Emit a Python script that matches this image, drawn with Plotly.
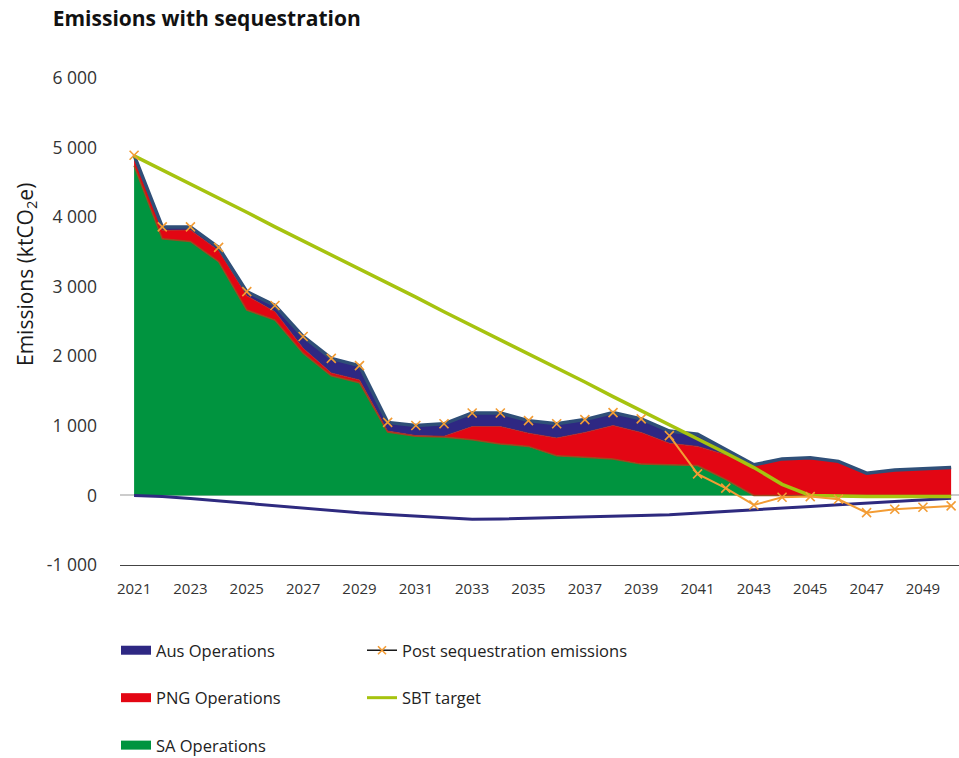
import plotly.graph_objects as go

years = list(range(2021, 2051))
sa_ops = [4740, 3690, 3650, 3360, 2665, 2520, 2045, 1720, 1620, 910,
          850, 840, 800, 740, 705, 570, 550, 525, 450, 440,
          430, 230, 0, 0, 0, 0, 0, 0, 0, 0]
png_ops = [100, 120, 165, 160, 205, 120, 70, 40, 40, 15,
           10, 10, 190, 250, 190, 255, 355, 480, 455, 310,
           275, 355, 430, 520, 535, 485, 315, 360, 378, 398]
aus_ops = [50, 50, 45, 45, 60, 90, 170, 210, 205, 125,
           145, 180, 195, 195, 180, 205, 185, 185, 195, 175,
           175, 75, 10, 5, 5, 5, 5, 5, 5, 5]
sequestration = [0, -15, -45, -80, -115, -145, -180, -220, -250, -275,
                 -300, -325, -343, -338, -330, -320, -310, -300, -290, -278,
                 -252, -228, -205, -182, -158, -134, -111, -87, -64, -40]
post_seq = [4890, 3860, 3860, 3565, 2930, 2730, 2285, 1970, 1865, 1050,
            1005, 1030, 1185, 1185, 1075, 1030, 1090, 1190, 1100, 860,
            310, 104, -137, -26, -17, -55, -248, -199, -170, -151]
sbt_target = [4880, 4680, 4470, 4270, 4070, 3860, 3660, 3460, 3250, 3050,
              2850, 2640, 2440, 2240, 2030, 1830, 1630, 1420, 1220, 1020,
              810, 610, 400, 160, 0, -10, -15, -15, -15, -15]
x_ticks = list(range(2021, 2050, 2))
y_ticks = [-1000, 0, 1000, 2000, 3000, 4000, 5000, 6000]
y_ticktext = ["-1 000", "0", "1 000", "2 000", "3 000", "4 000", "5 000", "6 000"]
post_line_start = 2040  # the orange connecting line is only visible from here on

C_AUS = "#2e2883"
C_PNG = "#e30613"
C_SA = "#00943f"
C_OUT = "#2f4f78"
C_SEQ = "#2e2a7f"
C_SBT = "#a6c30f"
C_POST = "#f39c34"
FONT = "Open Sans"

fig = go.Figure()

fig.add_trace(go.Scatter(x=years, y=sa_ops, stackgroup="one", mode="lines",
                         line=dict(color="#9a4a1e", width=1.5), fillcolor=C_SA,
                         showlegend=False, hoverinfo="skip"))
fig.add_trace(go.Scatter(x=years, y=png_ops, stackgroup="one", mode="lines",
                         line=dict(color="#b8261a", width=0.8), fillcolor=C_PNG,
                         showlegend=False, hoverinfo="skip"))
fig.add_trace(go.Scatter(x=years, y=aus_ops, stackgroup="one", mode="lines",
                         line=dict(color=C_OUT, width=3.5), fillcolor=C_AUS,
                         showlegend=False, hoverinfo="skip"))
fig.add_trace(go.Scatter(x=years, y=sequestration, mode="lines",
                         line=dict(color=C_SEQ, width=3), showlegend=False))
fig.add_trace(go.Scatter(x=years, y=sbt_target, mode="lines",
                         line=dict(color=C_SBT, width=3.5), showlegend=False))
i0 = years.index(post_line_start)
fig.add_trace(go.Scatter(x=years[i0:], y=post_seq[i0:], mode="lines",
                         line=dict(color=C_POST, width=2), showlegend=False))
fig.add_trace(go.Scatter(x=years, y=post_seq, mode="markers",
                         marker=dict(symbol="x-thin", size=9,
                                     line=dict(color=C_POST, width=1.6)),
                         showlegend=False))

# legend entries
for name, col in [("Aus Operations", C_AUS), ("PNG Operations", C_PNG), ("SA Operations", C_SA)]:
    fig.add_trace(go.Scatter(x=[None], y=[None], name=name, mode="lines",
                             line=dict(color=col, width=9),
                             legend="legend", legendgroup=name))
fig.add_trace(go.Scatter(x=[None], y=[None], name="Post sequestration emissions",
                         mode="lines+markers", line=dict(color="#1a1a1a", width=1.5),
                         marker=dict(symbol="x-thin", size=8, line=dict(color=C_POST, width=1.6)),
                         legend="legend2", legendgroup="post"))
fig.add_trace(go.Scatter(x=[None], y=[None], name="SBT target", mode="lines",
                         line=dict(color=C_SBT, width=3),
                         legend="legend2", legendgroup="sbt"))

fig.add_annotation(text="Emissions (ktCO<sub>2</sub>e)", textangle=-90,
                   xref="paper", yref="paper", x=-0.112, y=0.5955, showarrow=False,
                   xanchor="center", yanchor="middle",
                   font=dict(family=FONT, size=21, color="#1a1a1a"))

legend_common = dict(orientation="v", yanchor="top", xanchor="left",
                     xref="container", yref="container",
                     font=dict(family=FONT, size=16.5, color="#222222"),
                     bgcolor="rgba(0,0,0,0)", tracegroupgap=23, itemwidth=30)

fig.update_layout(
    width=959, height=758,
    margin=dict(l=120, r=0, t=78, b=193, autoexpand=False),
    paper_bgcolor="white", plot_bgcolor="white",
    font=dict(family=FONT, color="#333333"),
    title=dict(text="<b>Emissions with sequestration</b>", x=0.055, xanchor="left",
               y=0.976, yanchor="middle", font=dict(family=FONT, size=21, color="#111111")),
    xaxis=dict(range=[2020.5, 2050.28], tickvals=x_ticks, showgrid=False,
               showline=True, linecolor="#444444", linewidth=1, zeroline=False,
               ticks="", ticklabelstandoff=10, tickangle=0, automargin=False,
               tickfont=dict(family=FONT, size=15, color="#333333")),
    yaxis=dict(range=[-1000, 6000], tickvals=y_ticks, ticktext=y_ticktext,
               showgrid=False, zeroline=True, zerolinecolor="#cccccc", zerolinewidth=2,
               ticks="", ticklabelstandoff=22, automargin=False,
               tickfont=dict(family=FONT, size=17.5, color="#333333")),
    legend=dict(x=116 / 959, y=1 - 633 / 758, **legend_common),
    legend2=dict(x=362 / 959, y=1 - 633 / 758, **legend_common),
    showlegend=True,
)

fig.write_html("out.html")
